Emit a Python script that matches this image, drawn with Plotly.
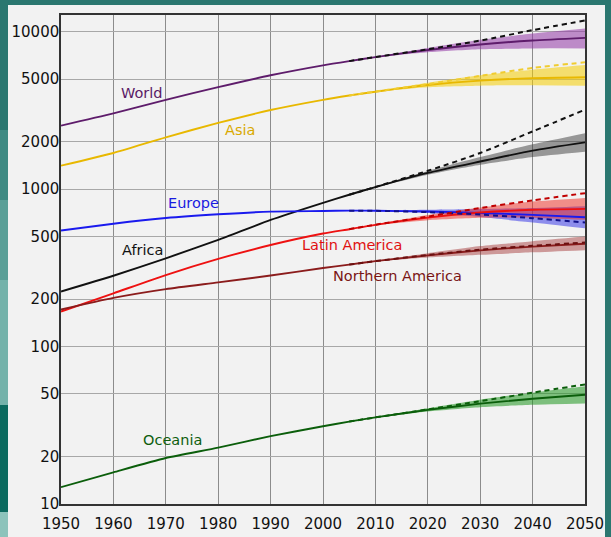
import math
import plotly.graph_objects as go

# ---------------- data (millions) ----------------
years = [1950, 1960, 1970, 1980, 1990, 2000, 2005, 2010, 2020, 2030, 2040, 2050]
proj_years = [2005, 2010, 2020, 2030, 2040, 2050]

world_med = [2535, 3032, 3699, 4451, 5295, 6124, 6515, 6907, 7667, 8318, 8801, 9150]
world_low = [6515, 6880, 7420, 7750, 7850, 7850]
world_high = [6515, 6940, 7900, 8900, 9750, 10500]
world_const = [6515, 6920, 7750, 8800, 10250, 11800]

asia_med = [1411, 1700, 2138, 2638, 3185, 3698, 3938, 4166, 4596, 4900, 5080, 5150]
asia_low = [3938, 4150, 4450, 4550, 4580, 4550]
asia_high = [3938, 4185, 4750, 5300, 5750, 6150]
asia_const = [3938, 4170, 4650, 5250, 5900, 6400]

africa_med = [224, 282, 364, 476, 638, 819, 922, 1032, 1270, 1500, 1760, 1985]
africa_low = [922, 1025, 1235, 1430, 1600, 1730]
africa_high = [922, 1040, 1305, 1600, 1930, 2270]
africa_const = [922, 1034, 1310, 1700, 2330, 3200]

europe_med = [547, 604, 656, 693, 721, 727, 731, 730, 722, 707, 687, 664]
europe_low = [731, 727, 705, 665, 615, 565]
europe_high = [731, 733, 740, 748, 760, 780]
europe_const = [731, 729, 715, 690, 655, 615]

latam_med = [167, 218, 285, 361, 442, 523, 557, 594, 660, 711, 740, 750]
latam_low = [557, 590, 635, 658, 660, 640]
latam_high = [557, 598, 685, 765, 835, 880]
latam_const = [557, 595, 670, 760, 850, 944]

namer_med = [172, 204, 232, 256, 283, 316, 332, 349, 380, 409, 432, 450]
namer_low = [332, 347, 368, 383, 397, 410]
namer_high = [332, 351, 392, 435, 468, 500]
namer_const = [332, 349, 382, 413, 437, 458]

oceania_med = [12.8, 15.9, 19.6, 22.8, 27.0, 31.2, 33.4, 35.5, 39.6, 43.4, 46.6, 49.5]
oceania_low = [33.4, 35.3, 38.7, 41.2, 42.7, 43.5]
oceania_high = [33.4, 35.7, 40.6, 46.0, 51.0, 56.0]
oceania_const = [33.4, 35.5, 39.9, 45.0, 51.0, 57.5]

x_ticks = [1950, 1960, 1970, 1980, 1990, 2000, 2010, 2020, 2030, 2040, 2050]
y_ticks = [10, 20, 50, 100, 200, 500, 1000, 2000, 5000, 10000]
y_ticktext = ["10", "20", "50", "100", "200", "500", "1000", "2000", "5000", "10000"]

label_names = ["World", "Asia", "Europe", "Africa", "Latin America", "Northern America", "Oceania"]
label_x = [1965.5, 1984.2, 1975.2, 1965.5, 2005.5, 2014.3, 1971.2]
label_y = [4070, 2370, 815, 410, 441, 280, 25.5]

# ---------------- styles ----------------
series = [
    ("World", world_med, world_low, world_high, world_const, "#5e1c6b", "rgba(145,55,165,0.55)", "#111111"),
    ("Asia", asia_med, asia_low, asia_high, asia_const, "#e8b800", "rgba(245,205,0,0.55)", "#f0cc30"),
    ("Africa", africa_med, africa_low, africa_high, africa_const, "#111111", "rgba(60,60,60,0.5)", "#111111"),
    ("Europe", europe_med, europe_low, europe_high, europe_const, "#1a1aee", "rgba(40,40,230,0.5)", "#10108a"),
    ("Latin America", latam_med, latam_low, latam_high, latam_const, "#ee1111", "rgba(240,40,30,0.5)", "#c00000"),
    ("Northern America", namer_med, namer_low, namer_high, namer_const, "#8b1c1c", "rgba(160,45,45,0.45)", "#6b1010"),
    ("Oceania", oceania_med, oceania_low, oceania_high, oceania_const, "#0b5e0b", "rgba(30,150,30,0.55)", "#0b5e0b"),
]
label_colors = ["#5a1a66", "#d9a900", "#1a1ae0", "#111111", "#e01010", "#7a1515", "#0e5e0e"]

fig = go.Figure()

for name, med, low, high, const, lc, bc, dc in series:
    fig.add_trace(go.Scatter(x=proj_years, y=low, mode="lines", line=dict(width=0, color=bc, shape="spline", smoothing=0.6),
                             showlegend=False, hoverinfo="skip"))
    fig.add_trace(go.Scatter(x=proj_years, y=high, mode="lines", line=dict(width=0, color=bc, shape="spline", smoothing=0.6),
                             fill="tonexty", fillcolor=bc, showlegend=False, hoverinfo="skip"))

for name, med, low, high, const, lc, bc, dc in series:
    fig.add_trace(go.Scatter(x=years, y=med, mode="lines",
                             line=dict(width=1.9, color=lc, shape="spline", smoothing=0.6),
                             name=name, showlegend=False))

for name, med, low, high, const, lc, bc, dc in series:
    fig.add_trace(go.Scatter(x=proj_years, y=const, mode="lines",
                             line=dict(width=2, color=dc, dash="5px,4px", shape="spline", smoothing=0.8),
                             showlegend=False))

for t, xv, yv, c in zip(label_names, label_x, label_y, label_colors):
    fig.add_annotation(x=xv, y=math.log10(yv), yref="y", xref="x", text=t, showarrow=False,
                       font=dict(family="DejaVu Sans", size=14.5, color=c))

# background decoration (slide)
W, H = 611, 537
L, R, T, B = 61, 26, 15, 33
pw, ph = W - L - R, H - T - B

def px(xp):
    return (xp - L) / pw

def py(yp):
    return (H - B - yp) / ph

shapes = []
strip = [(0, 130, "#2b7770"), (130, 200, "#3f8a83"), (200, 280, "#5a9f97"), (280, 405, "#74b2aa"),
         (405, 512, "#0b6a5f"), (512, 537, "#8cc3bb")]
for y0, y1, c in strip:
    shapes.append(dict(type="rect", xref="paper", yref="paper", x0=px(-5), x1=px(8.5),
                       y0=py(y1 + 1), y1=py(y0), fillcolor=c, line=dict(width=0), layer="below"))
shapes.append(dict(type="rect", xref="paper", yref="paper", x0=px(8), x1=px(605), y0=py(545), y1=py(5),
                   fillcolor="#f2f2f2", line=dict(width=0), layer="below"))
shapes.append(dict(type="rect", xref="paper", yref="paper", x0=px(605), x1=px(620), y0=py(545), y1=py(-5),
                   fillcolor="#2b7770", line=dict(width=0), layer="below"))

fig.update_layout(
    width=W, height=H,
    margin=dict(l=L, r=R, t=T, b=B, autoexpand=False),
    paper_bgcolor="#2b7770",
    plot_bgcolor="#f2f2f2",
    shapes=shapes,
    showlegend=False,
    font=dict(family="DejaVu Sans", color="#111111"),
)
fig.update_xaxes(range=[1950, 2050], tickvals=x_ticks, showgrid=True, gridcolor="#8c8c8c", gridwidth=1,
                 showline=True, linecolor="#333333", linewidth=1.5, mirror=True, ticks="",
                 tickfont=dict(size=15, color="#111111"), zeroline=False, ticklabelstandoff=5,
                 automargin=False)
fig.update_yaxes(type="log", range=[1, 4.107], tickvals=y_ticks, ticktext=y_ticktext, showgrid=True,
                 gridcolor="#a8a8a8", gridwidth=1, showline=True, linecolor="#333333", linewidth=1.5,
                 mirror=True, ticks="", tickfont=dict(size=15, color="#111111"), zeroline=False,
                 ticklabelstandoff=-3, automargin=False)

fig.write_html("out.html", config={"displayModeBar": False},
               post_script="document.body.style.margin='0';document.body.style.background='#2b7770';")
